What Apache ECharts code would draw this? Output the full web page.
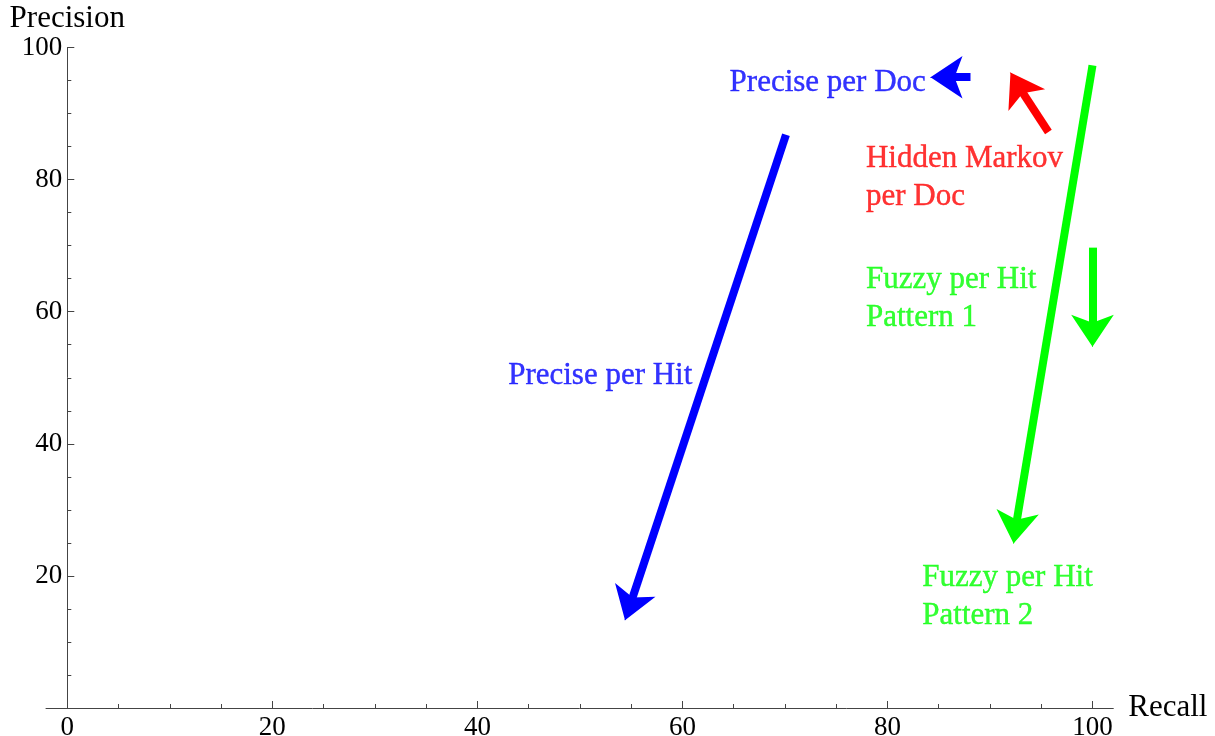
<!DOCTYPE html>
<html>
<head>
<meta charset="utf-8">
<title>Precision / Recall</title>
<script src="https://cdn.jsdelivr.net/npm/echarts@6/dist/echarts.min.js"></script>
<style>
	html, body { margin: 0; padding: 0; background: #fff; }
	#plot { width: 1215px; height: 736px; }
</style>
</head>
<body>
<div id="plot"></div>
<script>
// arrows in (recall, precision): tail, neck (where the shaft goes into the head), tip
const arrowNames = ['Precise per Hit', 'Precise per Doc', 'Hidden Markov per Doc', 'Fuzzy per Hit Pattern 2', 'Fuzzy per Hit Pattern 1'];
const arrowTail = [[70.1, 86.8], [88.1, 95.5], [95.7, 87.2], [100.0, 97.3], [100.0, 69.7]];
const arrowNeck = [[54.9, 15.6], [85.7, 95.5], [92.8, 94.1], [92.5, 27.3], [100.0, 57.1]];
const arrowTip = [[54.4, 13.3], [84.2, 95.5], [92.0, 96.2], [92.3, 24.9], [100.0, 54.7]];
const arrowColors = ['#0000ff', '#0000ff', '#ff0000', '#00ff00', '#00ff00'];

// text labels: left edge / vertical middle
const labelText = ['Precise per Hit', 'Precise per Doc', 'Hidden Markov\nper Doc', 'Fuzzy per Hit\nPattern 1', 'Fuzzy per Hit\nPattern 2'];
const labelAt = [[43.0, 50.3], [64.6, 94.6], [77.9, 80.3], [77.9, 62.0], [83.4, 16.9]];
const labelColors = ['#0000ff', '#0000ff', '#ff0000', '#00ff00', '#00ff00'];

const xRange = [0, 100];
const yRange = [0, 100];
const tickStep = 20;

const font = 'Liberation Serif';
const axisColor = '#444';

function shaftSeries(i) {
	return {
		name: arrowNames[i],
		type: 'lines',
		coordinateSystem: 'cartesian2d',
		xAxisIndex: 0,
		yAxisIndex: 0,
		clip: false,
		symbol: ['none', 'none'],
		lineStyle: { color: arrowColors[i], width: 8, opacity: 1, curveness: 0 },
		emphasis: { disabled: true },
		data: [{ coords: [arrowTail[i], arrowNeck[i]] }]
	};
}

function headSeries(i) {
	return {
		name: arrowNames[i],
		type: 'lines',
		coordinateSystem: 'cartesian2d',
		xAxisIndex: 0,
		yAxisIndex: 0,
		clip: false,
		symbol: ['none', 'arrow'],
		symbolSize: [0, [32, 32]],
		lineStyle: { color: arrowColors[i], width: 1, opacity: 1, curveness: 0 },
		emphasis: { disabled: true },
		data: [{ coords: [arrowNeck[i], arrowTip[i]] }]
	};
}

function buildOption() {
	const arrowSeries = [];
	arrowNames.forEach((name, i) => {
		arrowSeries.push(shaftSeries(i));
		arrowSeries.push(headSeries(i));
	});

	const labelSeries = {
		type: 'scatter',
		xAxisIndex: 0,
		yAxisIndex: 0,
		symbolSize: 0,
		silent: true,
		clip: false,
		label: {
			show: true,
			position: 'right',
			distance: 0,
			fontFamily: font,
			fontSize: 31,
			lineHeight: 38,
			textBorderWidth: 0.4,
			formatter: (p) => p.data.text
		},
		data: labelAt.map((it, i) => ({
			value: it,
			text: labelText[i],
			label: { color: labelColors[i], textBorderColor: labelColors[i] }
		}))
	};

	return {
		animation: false,
		backgroundColor: '#fff',
		grid: [
			{ left: 67.3, right: 122.5, top: 47.5, bottom: 28, outerBoundsMode: 'none', containLabel: false },
			{ left: 46, right: 101.7, top: 47.5, bottom: 28, outerBoundsMode: 'none', containLabel: false }
		],
		xAxis: [
			{
				type: 'value',
				gridIndex: 0,
				min: xRange[0],
				max: xRange[1],
				interval: tickStep,
				axisLine: { show: false },
				axisTick: { show: true, inside: true, length: 7, lineStyle: { color: axisColor } },
				minorTick: { show: true, splitNumber: 4, length: 4, lineStyle: { color: axisColor } },
				splitLine: { show: false },
				minorSplitLine: { show: false },
				axisLabel: { color: '#000', fontFamily: font, fontSize: 27, margin: 6 }
			},
			{
				type: 'value',
				gridIndex: 1,
				min: 0,
				max: 1,
				name: 'Recall',
				nameLocation: 'end',
				nameGap: 15,
				nameTextStyle: { color: '#000', fontFamily: font, fontSize: 31, padding: [0, 0, 7, 0] },
				axisLine: { show: true, onZero: false, lineStyle: { color: axisColor, width: 1 } },
				axisTick: { show: false },
				axisLabel: { show: false },
				splitLine: { show: false }
			}
		],
		yAxis: [
			{
				type: 'value',
				gridIndex: 0,
				min: yRange[0],
				max: yRange[1],
				interval: tickStep,
				name: 'Precision',
				nameLocation: 'end',
				nameGap: 8,
				nameTextStyle: { color: '#000', fontFamily: font, fontSize: 31, lineHeight: 31 },
				axisLine: { show: true, onZero: false, lineStyle: { color: axisColor, width: 1 } },
				axisTick: { show: true, inside: true, length: 7, lineStyle: { color: axisColor } },
				minorTick: { show: true, splitNumber: 4, length: 4, lineStyle: { color: axisColor } },
				splitLine: { show: false },
				minorSplitLine: { show: false },
				axisLabel: { color: '#000', fontFamily: font, fontSize: 27, margin: 5, showMinLabel: false }
			},
			{
				type: 'value',
				gridIndex: 1,
				min: 0,
				max: 1,
				show: false
			}
		],
		series: arrowSeries.concat([labelSeries])
	};
}

window.addEventListener('load', () => {
	const box = document.getElementById('plot');
	const plot = echarts.init(box);
	plot.setOption(buildOption());
	window.addEventListener('resize', () => {
		plot.resize();
	});
});
</script>
</body>
</html>
